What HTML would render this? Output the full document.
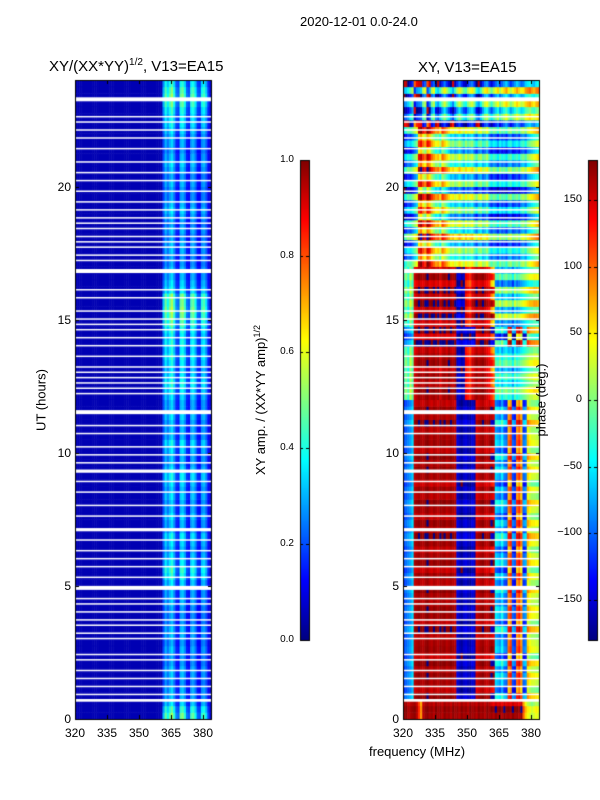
<!DOCTYPE html>
<html><head><meta charset="utf-8">
<style>
body{margin:0;background:#fff;width:600px;height:800px;overflow:hidden;font-family:"Liberation Sans","DejaVu Sans",sans-serif;}
#wrap{position:relative;width:600px;height:800px;}
canvas{position:absolute;left:0;top:0;}
.t{position:absolute;white-space:nowrap;color:#000;}
</style></head><body>
<div id="wrap">
<canvas id="cv" width="600" height="800"></canvas>
<div class="t" style="left:300px;top:14px;font-size:13px;">2020-12-01 0.0-24.0</div>
<div class="t" style="left:49px;top:57px;font-size:15px;">XY/(XX*YY)<sup style="font-size:10px">1/2</sup>, V13=EA15</div>
<div class="t" style="left:418px;top:59px;font-size:15px;">XY, V13=EA15</div>
<div class="t" style="left:41px;top:400px;font-size:13px;transform:translate(-50%,-50%) rotate(-90deg);">UT (hours)</div>
<div class="t" style="left:369px;top:744px;font-size:13px;">frequency (MHz)</div>
<div class="t" style="left:260px;top:400px;font-size:13px;transform:translate(-50%,-50%) rotate(-90deg);">XY amp. / (XX*YY amp)<sup style="font-size:9px">1/2</sup></div>
<div class="t" style="left:541px;top:400px;font-size:13px;transform:translate(-50%,-50%) rotate(-90deg);">phase (deg.)</div>
<div id="labels"></div>
</div>
<script>
// ---- data ----
const freqStart = 320, freqBins = 64; // 1 MHz bins 320..384
const xTicks = [320,335,350,365,380];
const yTicks = [0,5,10,15,20];
const ampTicks = [0.0,0.2,0.4,0.6,0.8,1.0];
const phaseTicks = [-150,-100,-50,0,50,100,150];
// amplitude column profile (per MHz from 320)
const ampCols = [0.05,0.05,0.05,0.05,0.05,0.05,0.05,0.05,0.05,0.05,0.05,0.05,0.05,0.05,0.05,0.05,
 0.05,0.05,0.05,0.05,0.05,0.05,0.05,0.05,0.05,0.05,0.05,0.05,0.05,0.05,0.05,0.05,
 0.05,0.05,0.05,0.05,0.05,0.05,0.05,0.05,0.05,0.20,0.30,0.24,0.30,0.34,0.26,0.16,
 0.14,0.30,0.32,0.26,0.15,0.13,0.28,0.30,0.24,0.14,0.13,0.26,0.28,0.22,0.12,0.08];
// per 0.25h row amplitude scale (96 rows, hour 0 first)
const rowScale = [1.6,1.4,1.1,1.0,1.0,0.9,1.0,1.0,0.9,0.9,1.0,0.9,1.0,1.0,0.9,0.9,
 0.9,1.0,1.0,1.0,1.1,1.3,1.4,1.2,1.1,1.0,1.1,1.2,1.0,1.0,1.1,1.0,
 1.0,1.1,1.0,1.1,1.2,1.1,1.0,1.0,1.1,1.2,1.0,1.0,1.0,1.1,1.0,1.0,
 1.1,1.2,1.3,1.2,1.1,1.2,1.3,1.2,1.3,1.2,1.3,1.5,1.6,1.7,1.6,1.6,
 1.2,1.1,1.0,1.0,0.9,0.9,1.0,1.0,0.9,1.0,0.9,1.0,1.1,1.0,0.9,0.9,
 1.0,0.9,1.0,1.1,1.0,0.9,1.0,1.0,1.1,1.2,1.2,1.3,1.5,1.6,1.5,1.3];
// phase profiles (deg) per MHz column
const phaseLow = [-110,-100,-90,-80,-60,160,165,170,165,160,170,175,165,160,170,165,
 160,170,165,170,160,165,170,165,160,-150,-160,-170,-155,-150,-160,-165,
 -150,-160,150,160,165,170,160,155,165,170,160,-60,-70,-80,-50,-90,-100,90,
 110,-110,-120,100,120,80,-100,-90,60,40,30,30,25,20];
const phaseMid = [-20,0,-30,20,-10,150,160,170,165,160,170,175,160,165,170,
 160,170,150,165,170,160,175,165,160,170,-160,-150,-170,-160,140,130,120,
 150,160,170,160,165,170,160,150,140,120,100,-30,-40,-20,-50,-30,-20,-40,
 -30,-60,-20,-40,-30,-20,-10,0,10,20,20,30,30,20,20];
const phaseHigh = [-110,-90,-70,-80,-60,-40,-20,100,120,80,60,120,100,60,40,20,
 30,0,60,40,20,0,-20,-10,-30,-20,0,-20,-40,-10,-30,-20,
 -10,-40,-60,-30,-20,-50,-40,-20,-60,-80,-60,-70,-90,-60,-80,-70,
 -90,-60,-50,-80,-70,-60,-80,-50,-40,-60,-30,-20,-10,0,10,20];
const phaseTop = [-150,-140,-120,-90,-60,160,-160,-150,-140,-60,-40,170,-150,-60,-40,-120,
 -140,-100,-60,-30,-60,-90,-120,-150,-100,-60,-30,-60,-90,-100,-60,-40,
 -30,-60,-120,-140,-100,-60,-30,-20,-60,-90,-60,-40,-20,-60,-40,-20,
 0,-30,-60,-40,-20,0,-20,-40,-30,0,10,20,0,-10,10,20];
const phaseBottom = [170,175,160,165,170,175,160,120,80,160,170,175,165,170,160,175,
 165,170,160,175,165,170,160,175,165,170,160,175,165,170,160,175,
 165,170,160,175,165,170,160,175,165,170,160,175,165,170,160,175,
 165,170,160,175,165,170,160,175,100,60,40,30,20,30,40,30];
// profile per row: B bottom, L low, M mid, H high, T top (96 rows)
const rowBand = "B".repeat(3)+"L".repeat(45)+"M".repeat(8)+"L".repeat(3)+"M".repeat(9)+"H".repeat(21)+"T".repeat(7);
// per-row phase offset (deg)
const rowShift = [0,10,-20,30,-30,0,20,-10,30,-40,10,0,-20,40,-30,10,
 20,-10,0,30,-20,10,-40,20,0,-30,10,40,-10,20,-30,0,
 30,-20,10,-40,0,20,-10,30,-30,10,0,-20,40,-10,20,-30,
 0,30,-20,10,-40,20,0,-30,60,-60,40,-50,60,-40,50,-30,
 40,-60,20,-40,60,-20,30,-50,80,-30,50,-70,20,-40,60,-80,
 30,-50,70,-20,40,-60,20,-40,60,-80,40,-20,60,-40,80,-60];
// flagged (blank) times: [hour, duration]
const gaps = [[23.2,0.15],[22.6,0.05],[22.4,0.05],[22.1,0.05],[21.8,0.05],[21.4,0.05],[20.9,0.05],[20.5,0.05],[20.2,0.05],[19.8,0.05],[19.4,0.05],[19.1,0.05],[18.8,0.05],[18.6,0.05],[18.4,0.05],[18.1,0.05],[17.9,0.05],[17.7,0.05],[17.4,0.05],[17.2,0.05],[16.75,0.15],[16.1,0.05],[15.8,0.05],[15.3,0.05],[15.0,0.05],[14.8,0.05],[14.6,0.05],[14.3,0.05],[14.0,0.05],[13.6,0.05],[13.2,0.05],[13.0,0.05],[12.8,0.05],[12.6,0.05],[12.4,0.05],[12.2,0.05],[11.45,0.15],[11.0,0.05],[10.7,0.05],[10.2,0.05],[9.9,0.05],[9.6,0.05],[9.25,0.12],[8.9,0.05],[8.5,0.05],[8.0,0.05],[7.6,0.05],[7.05,0.12],[6.7,0.05],[6.3,0.05],[6.0,0.05],[5.7,0.05],[5.3,0.05],[4.85,0.15],[4.5,0.05],[4.3,0.05],[4.0,0.05],[3.7,0.05],[3.5,0.05],[3.2,0.05],[3.0,0.05],[2.4,0.05],[2.2,0.05],[1.8,0.05],[1.5,0.05],[1.2,0.05],[0.9,0.05],[0.65,0.1]];

// ---- rendering ----
function jet(v){if(!isFinite(v))v=0;v=Math.max(0,Math.min(1,v));
 const r=Math.max(0,Math.min(1,1.5-Math.abs(4*v-3))),g=Math.max(0,Math.min(1,1.5-Math.abs(4*v-2))),b=Math.max(0,Math.min(1,1.5-Math.abs(4*v-1)));
 return `rgb(${Math.round(r*255)},${Math.round(g*255)},${Math.round(b*255)})`;}
const cv=document.getElementById('cv'),c=cv.getContext('2d');
const T=80,B=719,hourPx=(B-T)/24;
const yS=h=>B-h*hourPx;
const panels=[{x0:75,x1:212},{x0:403,x1:540}];
const pxPerMHz=(203-75)/60;
function xS(p,f){return p.x0+(f-freqStart)*pxPerMHz;}
const profs={B:phaseBottom,L:phaseLow,M:phaseMid,H:phaseHigh,T:phaseTop};
function wrap(p){if(!isFinite(p))return 0;while(p>180)p-=360;while(p<-180)p+=360;return p;}
for(let r=0;r<96;r++){
 const h0=r*0.25,y1=yS(h0),y0=yS(h0+0.25);
 const band=rowBand[r]||'T';
 const prof=profs[band];
 for(let k=0;k<freqBins;k++){
  const xa=xS(panels[0],freqStart+k),xb=xS(panels[0],freqStart+k+1);
  c.fillStyle=jet(ampCols[k]*(ampCols[k]>0.1?rowScale[r]:1));
  c.fillRect(xa,y0,xb-xa+0.5,y1-y0+0.5);
  const base=prof[k]!==undefined?prof[k]:0;
  const ph=wrap(base+(k>40||band==='H'||band==='T'?rowShift[r]:rowShift[r]*0.3));
  const xa2=xS(panels[1],freqStart+k),xb2=xS(panels[1],freqStart+k+1);
  c.fillStyle=jet((ph+180)/360);
  c.fillRect(xa2,y0,xb2-xa2+0.5,y1-y0+0.5);
 }
}
c.fillStyle='#fff';
for(const g of gaps){for(const p of panels){c.fillRect(p.x0,yS(g[0]+g[1]),p.x1-p.x0,Math.max(1.5,g[1]*hourPx));}}
// frame / ticks
const lab=document.getElementById('labels');
function label(txt,x,y,align,name){const d=document.createElement('div');d.className='t';
 
 
 d.style.fontSize='12px';d.style.top=(y-7)+'px';
 if(align==='r'){d.style.right=(600-x)+'px';}else if(align==='c'){d.style.left=x+'px';d.style.transform='translateX(-50%)';}else d.style.left=x+'px';
 d.textContent=txt;lab.appendChild(d);}
c.strokeStyle='#000';c.lineWidth=1;
panels.forEach((p,i)=>{
 c.strokeRect(p.x0+0.5,T+0.5,p.x1-p.x0-1,B-T);
 for(const t of yTicks){const y=Math.round(yS(t))+0.5;c.beginPath();c.moveTo(p.x0,y);c.lineTo(p.x0+4,y);c.moveTo(p.x1,y);c.lineTo(p.x1-4,y);c.stroke();label(String(t),p.x0-4,yS(t),'r','y-tick-label');}
 for(const t of xTicks){const x=Math.round(xS(p,t))+0.5;c.beginPath();c.moveTo(x,B);c.lineTo(x,B-4);c.moveTo(x,T);c.lineTo(x,T+4);c.stroke();label(String(t),xS(p,t),B+14,'c','x-tick-label');}
});
// colorbars
const cbT=160,cbB=640;
function cbar(x0,vmin,vmax,ticks,fmt){
 for(let y=cbT;y<cbB;y++){c.fillStyle=jet(1-(y-cbT)/(cbB-cbT));c.fillRect(x0,y,9,1);}
 c.strokeRect(x0+0.5,cbT+0.5,9,cbB-cbT);
 for(const t of ticks){const y=cbB-(t-vmin)/(vmax-vmin)*(cbB-cbT);const yy=Math.round(y)+0.5;
  c.beginPath();c.moveTo(x0,yy);c.lineTo(x0+3,yy);c.moveTo(x0+9,yy);c.lineTo(x0+6,yy);c.stroke();
  const d=document.createElement('div');d.className='t';
  
  
  d.style.fontSize=fmt?'10px':'11px';d.style.top=(y-(fmt?6:7))+'px';d.style.right=(600-(x0-6))+'px';
  d.textContent=fmt?t.toFixed(1):(t<0?'\u2212'+(-t):String(t));lab.appendChild(d);}
}
cbar(300,0,1,ampTicks,true);
cbar(588,-180,180,phaseTicks,false);
</script>
</body></html>
